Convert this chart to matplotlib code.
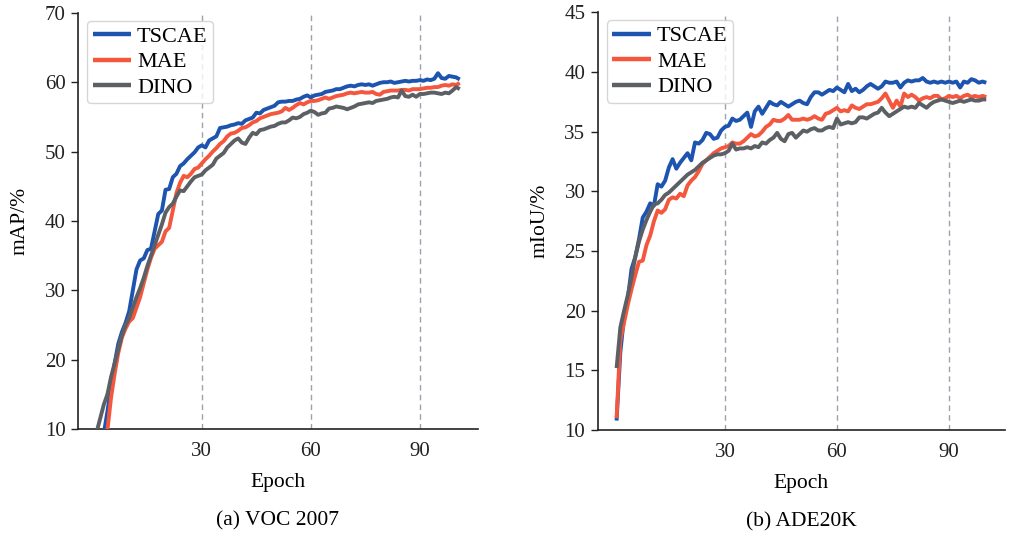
import numpy as np
import matplotlib
matplotlib.use("Agg")
import matplotlib.pyplot as plt

plt.rcParams['font.family'] = ['Liberation Serif', 'DejaVu Serif']

# ---------------- data ----------------
voc_epochs = list(range(1, 102))
voc_tscae = [5.5, 7.5, 9.3, 12.5, 16.0, 19.5, 22.3, 24.0, 25.3, 27.0,
             30.0, 33.0, 34.3, 34.6, 35.8, 36.0, 38.5, 41.0, 41.5, 44.5,
             44.6, 46.3, 46.8, 47.9, 48.3, 48.9, 49.4, 49.9, 50.6, 50.9,
             50.6, 51.6, 51.9, 52.2, 53.4, 53.5, 53.6, 53.8, 53.9, 54.1,
             54.0, 54.5, 54.7, 54.9, 55.6, 55.5, 56.0, 56.2, 56.4, 56.6,
             57.1, 57.2, 57.2, 57.3, 57.3, 57.5, 57.6, 57.9, 58.1, 57.8,
             58.1, 58.2, 58.3, 58.6, 58.7, 58.8, 59.0, 59.0, 59.2, 59.4,
             59.5, 59.4, 59.6, 59.7, 59.6, 59.7, 59.5, 59.7, 59.9, 60.0,
             60.0, 60.1, 59.9, 60.0, 60.1, 60.2, 60.1, 60.2, 60.2, 60.3,
             60.2, 60.4, 60.3, 60.5, 61.3, 60.6, 60.5, 60.9, 60.8, 60.7,
             60.4]
voc_mae = [4.0, 6.0, 8.0, 9.8, 14.5, 18.0, 21.0, 23.2, 24.5, 25.5,
           26.0, 27.5, 29.0, 31.0, 33.0, 34.7, 36.0, 36.5, 37.0, 38.5,
           39.0, 41.5, 44.0, 45.5, 46.5, 46.3, 46.8, 47.5, 47.7, 48.3,
           48.9, 49.4, 50.0, 50.5, 51.1, 51.5, 52.2, 52.6, 52.7, 53.0,
           53.4, 53.5, 53.8, 54.2, 54.4, 54.8, 55.0, 55.2, 55.4, 55.5,
           55.6, 55.8, 56.3, 56.0, 56.3, 56.7, 57.0, 56.8, 57.1, 57.3,
           57.3, 57.4, 57.6, 57.8, 57.6, 57.8, 58.0, 58.1, 58.2, 58.4,
           58.5, 58.4, 58.5, 58.6, 58.5, 58.5, 58.6, 58.3, 58.2, 58.6,
           58.7, 58.8, 58.8, 58.8, 58.9, 58.9, 58.8, 59.0, 59.0, 59.0,
           59.1, 59.2, 59.2, 59.3, 59.3, 59.5, 59.6, 59.5, 59.7, 59.6,
           59.9]
voc_dino = [9.5, 11.5, 13.5, 15.0, 17.5, 19.5, 21.5, 23.5, 25.0, 26.0,
            27.5, 29.0, 30.3, 31.8, 33.5, 35.0, 36.5, 38.0, 39.5, 41.2,
            42.0, 42.5, 43.5, 44.4, 44.3, 45.0, 45.7, 46.3, 46.5, 46.7,
            47.3, 47.7, 48.1, 49.0, 49.4, 49.8, 50.6, 51.1, 51.6, 51.9,
            51.3, 51.1, 52.0, 52.7, 52.5, 53.1, 53.2, 53.4, 53.6, 53.7,
            54.0, 54.2, 54.2, 54.5, 54.9, 54.8, 55.0, 55.4, 55.6, 55.9,
            55.7, 55.3, 55.5, 55.6, 56.2, 56.3, 56.5, 56.4, 56.3, 56.1,
            56.3, 56.5, 56.8, 56.9, 57.0, 57.1, 57.0, 57.3, 57.4, 57.5,
            57.6, 57.8, 57.9, 57.8, 58.8, 58.0, 57.9, 58.2, 57.9, 58.3,
            58.3, 58.4, 58.5, 58.5, 58.4, 58.3, 58.5, 58.4, 58.8, 59.3,
            59.0]

ade_epochs = list(range(1, 101))
ade_tscae = [10.8, 16.5, 19.5, 21.0, 23.5, 24.5, 26.0, 27.8, 28.3, 29.0,
             28.8, 30.6, 30.4, 30.9, 32.0, 32.7, 31.9, 32.4, 32.8, 33.2,
             32.6, 34.1, 34.0, 34.3, 34.9, 34.8, 34.4, 34.5, 35.1, 35.4,
             35.5, 36.1, 35.9, 36.0, 36.3, 36.6, 35.4, 36.7, 37.1, 36.5,
             37.0, 37.5, 37.3, 37.2, 37.5, 37.3, 37.1, 37.3, 37.5, 37.6,
             37.4, 37.3, 37.9, 38.3, 38.3, 38.1, 38.3, 38.5, 38.4, 38.7,
             38.5, 38.3, 39.0, 38.4, 38.6, 38.3, 38.5, 38.8, 39.0, 38.8,
             38.6, 38.8, 39.2, 39.1, 39.1, 39.2, 38.7, 39.1, 39.3, 39.2,
             39.3, 39.3, 39.5, 39.2, 39.1, 39.2, 39.1, 39.2, 39.1, 39.2,
             39.1, 39.2, 38.7, 39.2, 39.1, 39.4, 39.3, 39.1, 39.2, 39.1]
ade_mae = [11.0, 17.5, 19.0, 20.5, 21.8, 23.0, 24.1, 24.2, 25.5, 26.3,
           27.5, 28.4, 28.2, 28.5, 29.3, 29.5, 29.4, 29.8, 29.6, 30.5,
           30.9, 31.2, 31.7, 32.3, 32.6, 32.9, 33.2, 33.4, 33.6, 33.7,
           33.8, 34.1, 34.0, 34.0, 34.2, 34.5, 34.8, 34.6, 34.7, 35.0,
           35.4, 35.6, 36.0, 35.9, 35.9, 36.1, 36.4, 36.0, 36.0, 36.0,
           36.1, 36.0, 36.1, 36.3, 36.1, 36.0, 36.5, 36.6, 36.8, 37.0,
           36.7, 36.8, 36.7, 37.2, 37.0, 36.9, 37.1, 37.3, 37.3, 37.4,
           37.5, 37.8, 38.2, 37.6, 37.0, 37.6, 37.1, 38.2, 37.9, 38.1,
           37.9, 37.6, 37.8, 37.9, 37.8, 38.0, 38.0, 37.7, 37.8, 38.0,
           37.9, 38.0, 37.8, 38.0, 38.1, 37.9, 38.0, 37.9, 38.0, 37.9]
ade_dino = [15.2, 18.6, 20.0, 21.3, 22.8, 24.5, 25.8, 26.8, 27.6, 28.3,
            28.9, 29.0, 29.3, 29.7, 29.9, 30.2, 30.5, 30.8, 31.1, 31.4,
            31.6, 31.8, 32.1, 32.4, 32.6, 32.8, 33.0, 33.1, 33.1, 33.2,
            33.4, 34.0, 33.5, 33.6, 33.6, 33.7, 33.6, 33.8, 33.7, 34.1,
            34.0, 34.3, 34.5, 34.9, 34.4, 34.2, 34.8, 34.9, 34.5, 34.8,
            35.1, 35.0, 35.2, 35.3, 35.1, 35.1, 35.3, 35.4, 35.3, 36.1,
            35.6, 35.7, 35.8, 35.7, 35.8, 36.2, 36.2, 36.1, 36.3, 36.5,
            36.6, 37.0, 36.6, 36.3, 36.5, 36.7, 36.9, 37.1, 37.0, 37.1,
            37.0, 37.4, 37.2, 37.0, 37.3, 37.5, 37.6, 37.7, 37.6, 37.5,
            37.4, 37.5, 37.6, 37.5, 37.6, 37.7, 37.6, 37.6, 37.7, 37.7]

series_names = ['TSCAE', 'MAE', 'DINO']
grid_epochs = [30, 60, 90]

# ---------------- style ----------------
colors = ['#1c54b0', '#f4573d', '#5c6064']
FS_TICK = 15
FS_LAB = 15.5
FS_LEG = 16

fig = plt.figure(figsize=(10.10, 5.35), dpi=100)
ax1 = fig.add_axes([0.0772, 0.198, 0.396, 0.778])
ax2 = fig.add_axes([0.592, 0.196, 0.403, 0.781])

panels = [
    (ax1, voc_epochs, [voc_tscae, voc_mae, voc_dino], (10, 70), range(10, 71, 10),
     (-4.1, 106.0), 'mAP/%', '(a) VOC 2007'),
    (ax2, ade_epochs, [ade_tscae, ade_mae, ade_dino], (10, 45), range(10, 46, 5),
     (-4.0, 105.0), 'mIoU/%', '(b) ADE20K'),
]

for ax, xs, ys, ylim, yticks, xlim, ylabel, caption in panels:
    for g in grid_epochs:
        ax.axvline(g, color='#9aa3ad', lw=1.0, ls=(0, (4, 3)), zorder=1)
    for y, c, n in zip(ys, colors, series_names):
        ax.plot(xs, y, color=c, lw=2.8, label=n, zorder=3, solid_capstyle='butt')
    ax.set_xlim(*xlim)
    ax.set_ylim(*ylim)
    ax.set_yticks(list(yticks))
    ax.set_xticks(grid_epochs)
    ax.spines['top'].set_visible(False)
    ax.spines['right'].set_visible(False)
    for s in ('left', 'bottom'):
        ax.spines[s].set_linewidth(1.2)
        ax.spines[s].set_color('#222222')
    ax.tick_params(axis='both', labelsize=FS_TICK, colors='#222222', length=5, width=1.0, pad=4)
    ax.tick_params(axis='x', length=0, pad=9)
    ax.set_ylabel(ylabel, fontsize=FS_LAB, labelpad=11)
    ax.set_xlabel('Epoch', fontsize=FS_LAB, labelpad=9)
    bb = ax.get_window_extent()
    leg = ax.legend(loc='upper left', fontsize=FS_LEG, frameon=True, handlelength=1.75,
                    handletextpad=0.25, borderpad=0.25, labelspacing=0.22,
                    borderaxespad=0.0,
                    bbox_to_anchor=(9.0 / bb.width, 1 - 8.0 / bb.height))
    leg.get_frame().set_edgecolor('#cccccc')
    leg.get_frame().set_linewidth(1.0)
    for line in leg.get_lines():
        line.set_linewidth(3.2)
    ax.text(0.5, -82.0 / bb.height, caption, transform=ax.transAxes, ha='center', va='top',
            fontsize=FS_LAB)

fig.savefig('out.png', dpi=100)
